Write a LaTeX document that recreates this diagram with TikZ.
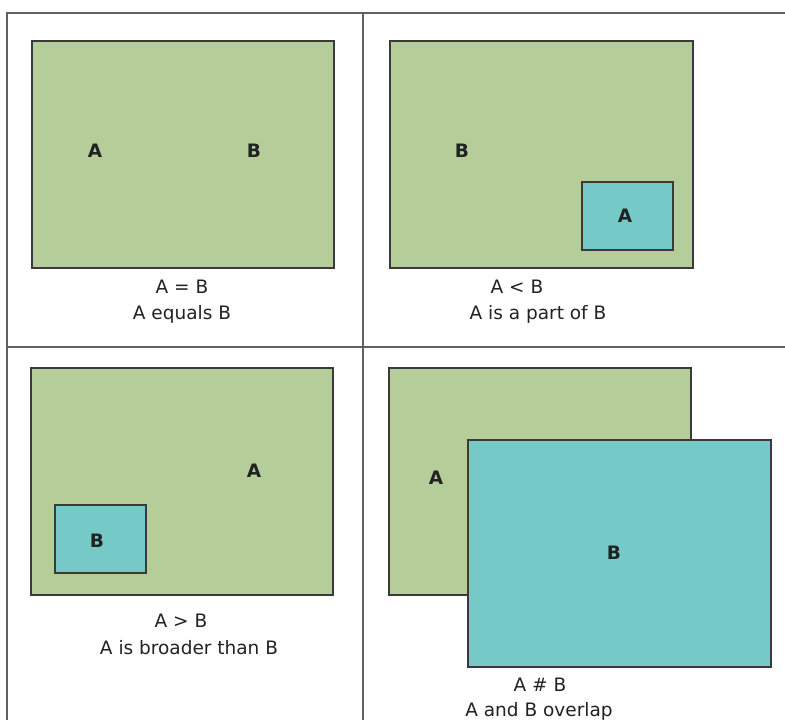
\documentclass[tikz,border=0pt]{standalone}
\usepackage{fontspec}
\setmainfont{DejaVu Sans}
\definecolor{gfill}{HTML}{B5CD99}
\definecolor{cfill}{HTML}{75CAC8}
\definecolor{edge}{HTML}{3A3A3A}
\definecolor{grid}{HTML}{606060}
\definecolor{txt}{HTML}{222222}
\begin{document}
\begin{tikzpicture}[x=1pt,y=-1pt,
  gridline/.style={draw=grid,line width=1.6pt},
  gbox/.style={draw=edge,fill=gfill,line width=1.2pt,anchor=north west,inner sep=0pt,outer sep=0pt},
  cbox/.style={draw=edge,fill=cfill,line width=1.2pt,anchor=north west,inner sep=0pt,outer sep=0pt},
  lbl/.style={font=\fontsize{18.5}{20}\selectfont\bfseries,text=txt,inner sep=0pt},
  captext/.style={font=\fontsize{18.5}{20}\selectfont,text=txt,inner sep=0pt}]
\useasboundingbox (0,0) rectangle (785,720);
% grid
\coordinate (tl) at (7,13);
\coordinate (tr) at (785,13);
\coordinate (bl) at (7,720);
\coordinate (vt) at (363,13);
\coordinate (vb) at (363,720);
\coordinate (hl) at (7,347);
\coordinate (hr) at (785,347);
\draw[gridline] (tr) -- (tl) -- (bl);
\draw[gridline] (vt) -- (vb);
\draw[gridline] (hl) -- (hr);
% top left
\node[gbox,minimum width=302pt,minimum height=227pt] (eqB) at (32,41) {};
\node[lbl] (eqa) at (95,151) {A};
\node[lbl] (eqb) at (254,151) {B};
\node[captext] (eq1) at (182,287) {A = B};
\node[captext] (eq2) at (182,314) {A equals B};
% top right
\node[gbox,minimum width=303pt,minimum height=227pt] (ltB) at (390,41) {};
\node[lbl] (ltb) at (462,151) {B};
\node[cbox,minimum width=91pt,minimum height=68pt] (ltA) at (582,182) {};
\node[lbl] (lta) at (625,216) {A};
\node[captext] (lt1) at (517,287) {A < B};
\node[captext] (lt2) at (538,314) {A is a part of B};
% bottom left
\node[gbox,minimum width=302pt,minimum height=227pt] (gtA) at (31,368) {};
\node[lbl] (gta) at (254,471) {A};
\node[cbox,minimum width=91pt,minimum height=68pt] (gtB) at (55,505) {};
\node[lbl] (gtb) at (97,541) {B};
\node[captext] (gt1) at (181,621) {A > B};
\node[captext] (gt2) at (189,648) {A is broader than B};
% bottom right
\node[gbox,minimum width=302pt,minimum height=227pt] (ovA) at (389,368) {};
\node[lbl] (ova) at (436,478) {A};
\node[cbox,minimum width=303pt,minimum height=227pt] (ovB) at (468,440) {};
\node[lbl] (ovb) at (614,553) {B};
\node[captext] (ov1) at (540,685) {A \# B};
\node[captext] (ov2) at (539,711) {A and B overlap};
\end{tikzpicture}
\end{document}
